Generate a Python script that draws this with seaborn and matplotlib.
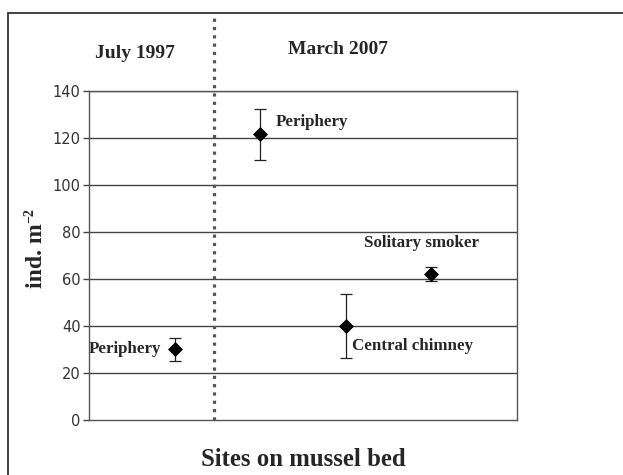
import matplotlib
matplotlib.use("Agg")
import matplotlib.pyplot as plt
from matplotlib.lines import Line2D
import pandas as pd
import seaborn as sns

# site means and error half-widths (ind. m^-2)
sites = ["Periphery", "Periphery", "Central chimney", "Solitary smoker"]
positions = [1, 2, 3, 4]
means = [30, 121.5, 40, 62]
errs = [5, 10.7, 13.5, 3]

df = pd.DataFrame({"site": sites, "pos": positions, "mean": means, "err": errs})

sns.set_theme(style="white")
plt.rcParams['font.family'] = ['Liberation Serif', 'DejaVu Serif']

fig = plt.figure(figsize=(6.23, 4.75), dpi=100)
ax = fig.add_axes([0.1429, 0.1158, 0.687, 0.6926])

# grid lines
for yv in range(20, 141, 20):
    ax.axhline(yv, color='#444444', lw=1.0, zorder=0)

ax.errorbar(df['pos'], df['mean'], yerr=df['err'], fmt='none', ecolor='#222222',
            elinewidth=0.9, capsize=4, capthick=0.9, zorder=2)
sns.scatterplot(data=df, x='pos', y='mean', marker='D', s=50, color='black',
                edgecolor='black', ax=ax, zorder=3, legend=False)

ax.set_xlim(0, 5)
ax.set_ylim(0, 140)
ax.set_yticks(range(0, 141, 20))
ax.set_xticks([])
ax.set_xlabel('')
ax.set_ylabel('')
for lab in ax.get_yticklabels():
    lab.set_family(['DejaVu Sans'])
    lab.set_fontsize(10.5)
    lab.set_color('#333333')
ax.tick_params(axis='y', which='both', left=True, length=4, width=1, color='#444444', pad=2)
for sp in ax.spines.values():
    sp.set_color('#555555')
    sp.set_linewidth(1.0)
    sp.set_visible(True)

# dotted separator between the two surveys
ax.axvline(1.46, ymin=0, ymax=1.222, color='#555555', lw=2.3,
           linestyle=(0, (1, 1.6)), clip_on=False, zorder=1)

# site labels
lab_kw = dict(ha='left', va='center', fontsize=12.2, fontweight='bold')
ax.text(0.0, 30, 'Periphery', **lab_kw)
ax.text(2.18, 127, 'Periphery', **lab_kw)
ax.text(3.07, 31.5, 'Central chimney', **lab_kw)
ax.text(3.21, 75.5, 'Solitary smoker', **lab_kw)

# survey headers
fig.text(135 / 623, 1 - 53 / 475, 'July 1997', ha='center', va='center',
         fontsize=14, fontweight='bold')
fig.text(338 / 623, 1 - 49 / 475, 'March 2007', ha='center', va='center',
         fontsize=14, fontweight='bold')

# y label with small superscript
fig.text(37 / 623, 1 - 256 / 475, 'ind. m', rotation=90, ha='center',
         va='center', fontsize=17, fontweight='bold')
fig.text(30 / 623, 1 - 216 / 475, '\u22122', rotation=90, ha='center',
         va='center', fontsize=10, fontweight='bold')

fig.text(303 / 623, 1 - 460 / 475, 'Sites on mussel bed', ha='center', va='center',
         fontsize=17.8, fontweight='bold')

# outer frame (only top and left edges fall inside the picture)
x0, y0 = 8 / 623, 1 - 13 / 475
fig.add_artist(Line2D([x0, 1], [y0, y0], transform=fig.transFigure, color='#333333', lw=1.3))
fig.add_artist(Line2D([x0, x0], [0, y0], transform=fig.transFigure, color='#333333', lw=1.3))

fig.savefig('out.png', dpi=100)
